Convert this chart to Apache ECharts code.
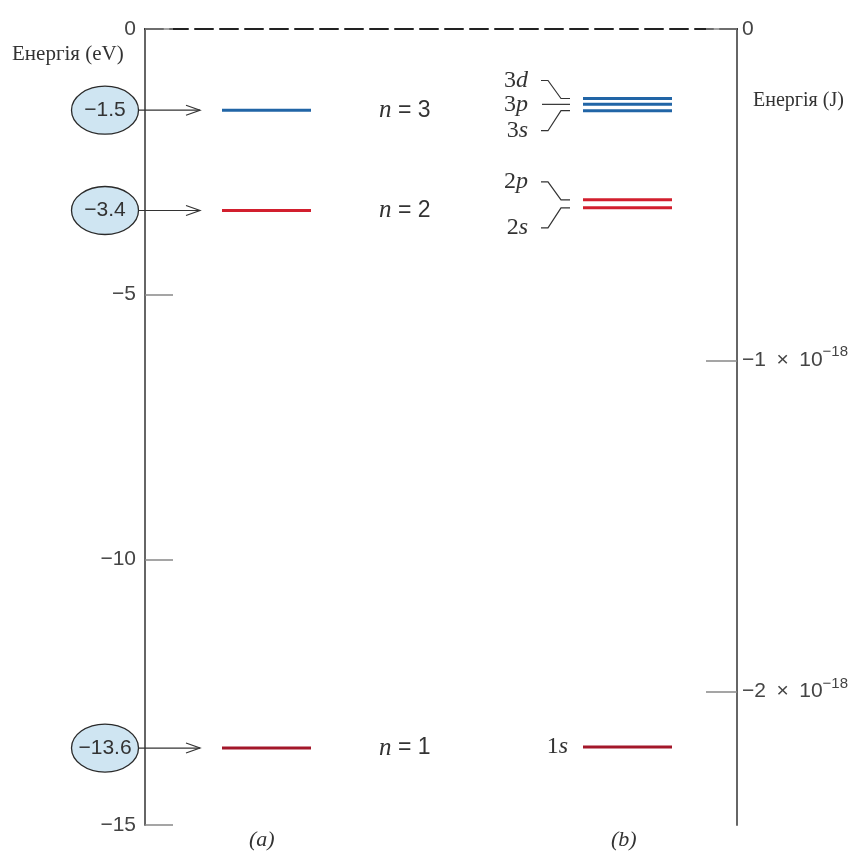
<!DOCTYPE html>
<html>
<head>
<meta charset="utf-8">
<script src="https://cdn.jsdelivr.net/npm/echarts@6/dist/echarts.min.js"></script>
<style>
    html, body { margin: 0; padding: 0; background: #fff; }
    #chart { width: 859px; height: 851px; }
</style>
</head>
<body>
<div id="chart"></div>
<script>
// 수소 원자 에너지 준위 (eV) - 그림에서 읽은 값
const shellNumbers = [3, 2, 1];
const shellEnergies = [-1.53, -3.42, -13.55];
const shellLabels = ['−1.5', '−3.4', '−13.6'];

// (b) 부준위
const subLevelNames = ['3d', '3p', '3s', '2p', '2s', '1s'];
const subLevelShells = [3, 3, 3, 2, 2, 1];
const subLevelEnergies = [-1.31, -1.42, -1.54, -3.22, -3.37, -13.53];

// 축 눈금
const eVTicks = [0, -5, -10, -15];
const jouleTicks = [0, -1e-18, -2e-18];
const EV_TO_J = 1.602e-19;

const SANS = '"Liberation Sans", Arial, sans-serif';
const SERIF = '"Liberation Serif", "Times New Roman", serif';

const SHELL_COLOR = { 3: '#2165a6', 2: '#d21f2e', 1: '#a3172a' };

/**
 * @description (a) 주양자수 준위: 값 타원 + 화살표 + 준위선 + n 라벨
 */
function renderShell(params, api) {
    const i = params.dataIndex;
    const n = api.value(0);
    const e = api.value(1);
    const y = api.coord([0, e])[1];
    const x = v => api.coord([v, e])[0];
    const tip = x(55);
    return {
        type: 'group',
        children: [
            { type: 'line', shape: { x1: x(77), y1: y, x2: x(166), y2: y },
              style: { stroke: SHELL_COLOR[n], lineWidth: 3 } },
            { type: 'line', shape: { x1: x(-8), y1: y, x2: tip, y2: y },
              style: { stroke: '#333', lineWidth: 1.2 } },
            { type: 'polyline', shape: { points: [[tip - 14, y - 5], [tip, y], [tip - 14, y + 5]] },
              style: { stroke: '#333', fill: null, lineWidth: 1.2 } },
            { type: 'ellipse', shape: { cx: x(-40), cy: y, rx: 33.5, ry: 24 },
              style: { fill: '#cfe5f2', stroke: '#2a2a2a', lineWidth: 1.3 } },
            { type: 'text',
              style: { text: shellLabels[i], x: x(-40), y: y, align: 'center', verticalAlign: 'middle',
                       fontSize: 21, fontFamily: SANS, fill: '#333' } },
            { type: 'text',
              style: { text: '{i|n} = ' + n, x: x(234), y: y, align: 'left', verticalAlign: 'middle',
                       fontSize: 23, fontFamily: SANS, fill: '#333',
                       rich: { i: { fontSize: 25, fontFamily: SERIF, fontStyle: 'italic', fill: '#333' } } } }
        ]
    };
}

/**
 * @description (b) 부준위: 준위선 + 라벨 + 꺾인 연결선
 */
function renderSubLevel(params, api) {
    const i = params.dataIndex;
    const shell = api.value(0);
    const e = api.value(1);
    const y = api.coord([0, e])[1];
    const x = v => api.coord([v, e])[0];

    // 같은 껍질의 부준위끼리 라벨을 위아래로 벌린다
    const members = subLevelShells.map((s, k) => (s === shell ? k : -1)).filter(k => k >= 0);
    const pos = members.indexOf(i);
    let labelY = y;
    if (members.length > 1 && pos === 0) labelY = y - 18;
    if (members.length > 1 && pos === members.length - 1) labelY = y + 20;

    const name = subLevelNames[i];
    const labelStyle = {
        text: name[0] + '{i|' + name[1] + '}',
        align: 'right', verticalAlign: 'middle',
        fontSize: 24, fontFamily: SERIF, fill: '#333',
        rich: { i: { fontSize: 24, fontFamily: SERIF, fontStyle: 'italic', fill: '#333' } }
    };
    const children = [
        { type: 'line', shape: { x1: x(438), y1: y, x2: x(527), y2: y },
          style: { stroke: SHELL_COLOR[shell], lineWidth: 3 } }
    ];

    if (members.length === 1) {
        children.push({ type: 'text', style: Object.assign({ x: x(423), y: y }, labelStyle) });
    } else {
        children.push({ type: 'text', style: Object.assign({ x: x(383), y: labelY }, labelStyle) });
        const pts = labelY === y
            ? [[x(397), y], [x(425), y]]
            : [[x(396), labelY], [x(403), labelY], [x(416), y], [x(425), y]];
        children.push({ type: 'polyline', shape: { points: pts },
            style: { stroke: '#333', fill: null, lineWidth: 1.2 } });
    }
    return { type: 'group', children: children };
}

const chart = echarts.init(document.getElementById('chart'));

const option = {
    animation: false,
    backgroundColor: '#fff',
    grid: { left: 145, right: 122, top: 29, bottom: 26, containLabel: false },
    xAxis: {
        type: 'value',
        position: 'top',
        min: 0,
        max: 592,
        axisLine: { show: true, lineStyle: { color: '#222', width: 2, type: [18, 7] } },
        axisTick: { show: false },
        axisLabel: { show: false },
        splitLine: { show: false }
    },
    yAxis: [
        {
            type: 'value',
            position: 'left',
            min: -15,
            max: 0,
            interval: 5,
            axisLine: { show: true, onZero: false, lineStyle: { color: '#666', width: 2 } },
            axisTick: { show: true, inside: true, length: 28, customValues: eVTicks,
                        lineStyle: { color: '#888', width: 1.5 } },
            axisLabel: { customValues: eVTicks, fontSize: 21, fontFamily: SANS, color: '#444', margin: 9,
                         formatter: v => String(v).replace('-', '−') },
            splitLine: { show: false }
        },
        {
            type: 'value',
            position: 'right',
            min: -15 * EV_TO_J,
            max: 0,
            axisLine: { show: true, onZero: false, lineStyle: { color: '#666', width: 2 } },
            axisTick: { show: true, inside: true, length: 31, customValues: jouleTicks,
                        lineStyle: { color: '#888', width: 1.5 } },
            axisLabel: {
                customValues: jouleTicks,
                fontSize: 21, fontFamily: SANS, color: '#444', margin: 5,
                formatter: v => {
                    if (v === 0) return '0';
                    const m = Math.round(-v / 1e-18);
                    return '−' + m + '\u2002×\u2002' + '10{sup|−18}';
                },
                rich: { sup: { fontSize: 15, fontFamily: SANS, color: '#444', padding: [0, 0, 16, 0] } }
            },
            splitLine: { show: false }
        }
    ],
    graphic: [
        { type: 'text', left: 12, top: 44,
          style: { text: 'Енергія (eV)', fontSize: 21, fontFamily: SERIF, fill: '#333' } },
        { type: 'text', left: 753, top: 91,
          style: { text: 'Енергія (J)', fontSize: 20, fontFamily: SERIF, fill: '#333' } },
        { type: 'text', left: 249, top: 829,
          style: { text: '(a)', fontSize: 22, fontFamily: SERIF, fontStyle: 'italic', fill: '#333' } },
        { type: 'text', left: 611, top: 829,
          style: { text: '(b)', fontSize: 22, fontFamily: SERIF, fontStyle: 'italic', fill: '#333' } }
    ],
    series: [
        {
            type: 'custom',
            name: 'shells',
            xAxisIndex: 0,
            yAxisIndex: 0,
            clip: false,
            renderItem: renderShell,
            encode: { x: -1, y: 1 },
            data: shellEnergies.map((e, i) => [shellNumbers[i], e])
        },
        {
            type: 'custom',
            name: 'subLevels',
            xAxisIndex: 0,
            yAxisIndex: 0,
            clip: false,
            renderItem: renderSubLevel,
            encode: { x: -1, y: 1 },
            data: subLevelEnergies.map((e, i) => [subLevelShells[i], e])
        }
    ]
};

chart.setOption(option);
window.addEventListener('resize', () => chart.resize());
</script>
</body>
</html>
